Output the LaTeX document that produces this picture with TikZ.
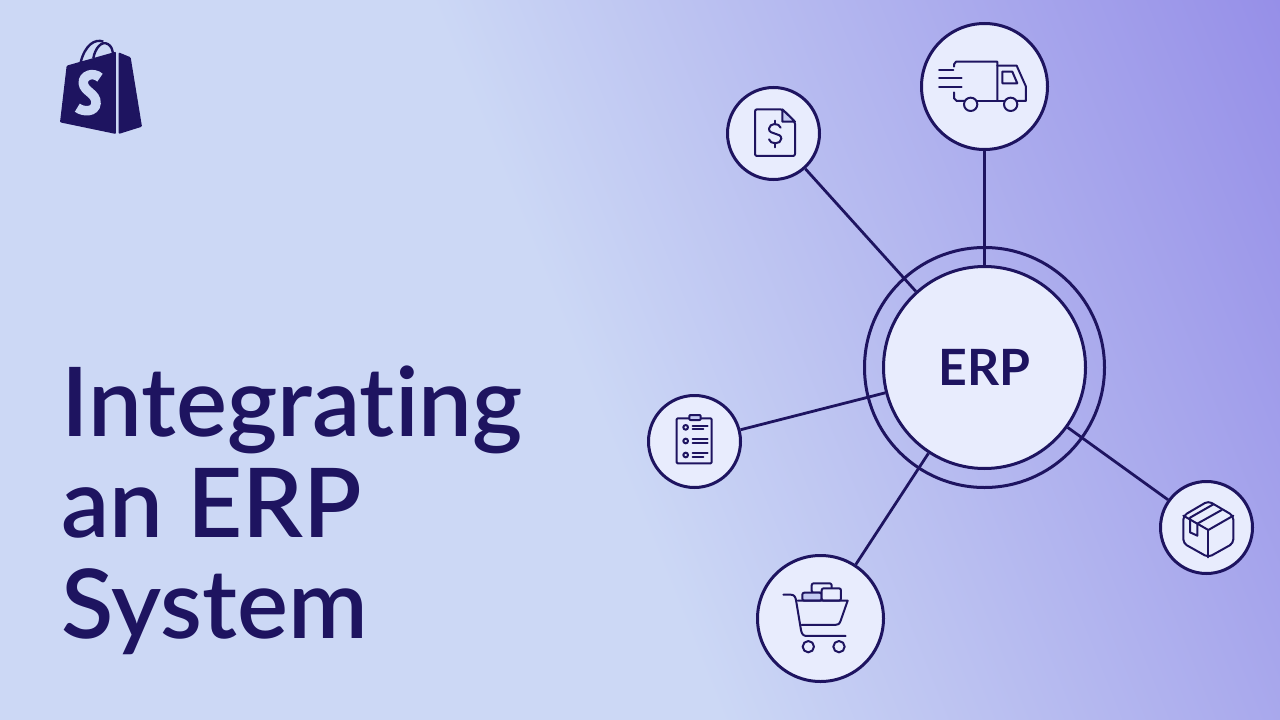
\documentclass[tikz,border=0pt]{standalone}
\usepackage{fontspec}
\setmainfont{Lato Semibold}[Ligatures=NoCommon,BoldFont=Lato Bold]
\usetikzlibrary{positioning}
\definecolor{navy}{RGB}{30,20,96}
\definecolor{paleblue}{RGB}{204,216,245}
\definecolor{deepblue}{RGB}{150,143,232}
\definecolor{discfill}{RGB}{232,236,253}
\definecolor{foldfill}{RGB}{196,202,242}
\pgfdeclarehorizontalshading{bgfade}{100bp}{color(0bp)=(paleblue); color(48.5bp)=(paleblue); color(68.2bp)=(deepblue); color(100bp)=(deepblue)}

\begin{document}
\begin{tikzpicture}[x=1pt, y=-1pt]
	\tikzstyle{bignode}=[draw=navy, line width=3pt, circle, fill=discfill, minimum size=126pt, inner sep=0pt]
	\tikzstyle{smallnode}=[draw=navy, line width=3pt, circle, fill=discfill, minimum size=92pt, inner sep=0pt]
	\tikzstyle{erpnode}=[draw=navy, line width=3pt, circle, fill=discfill, minimum size=202pt, inner sep=0pt, text=navy, font=\fontsize{50}{50}\selectfont\bfseries]
	\tikzstyle{ringnode}=[draw=navy, line width=3pt, circle, minimum size=240pt, inner sep=0pt]
	\tikzstyle{link}=[draw=navy, line width=2.8pt]
	\tikzstyle{icon}=[draw=navy, line width=2pt, line cap=round, line join=round]

	\useasboundingbox (0,0) rectangle (1280,720);
	\begin{scope}
		\clip (0,0) rectangle (1280,720);
		\node (bg) at (640,360) [minimum width=2000pt, minimum height=2000pt, shading=bgfade, shading angle=22] {};
	\end{scope}

	\node (title) at (61,638) [anchor=base west, align=left, text=navy, inner sep=0pt, font=\fontsize{96}{101}\selectfont] {Integrating\\an ERP\\System};

	\node (ring) at (984.5,367.5) [ringnode] {};
	\node (truck) at (984.5,86.5) [bignode] {};
	\node (bill) at (773.5,133.5) [smallnode] {};
	\node (list) at (694.5,441.5) [smallnode] {};
	\node (cart) at (820.5,618.5) [bignode] {};
	\node (parcel) at (1206.5,527.5) [smallnode] {};
	\node (erp) at (984.5,367.5) [erpnode] {ERP};

	\draw [link] (bill) -- (erp);
	\draw [link] (truck) -- (erp);
	\draw [link] (list) -- (erp);
	\draw [link] (cart) -- (erp);
	\draw [link] (parcel) -- (erp);

	% shop bag
	\begin{scope}[shift={(40,25)}, scale=0.3333]
		\fill [navy, rounded corners=1pt] (80,122) -- (228,80) -- (228,327) -- (60,292) -- cycle;
		\fill [navy, rounded corners=1pt] (236,82) -- (272,97) -- (306,305) -- (236,327) -- cycle;
		\draw [navy, line width=2.4pt] (122,112) .. controls (135,60) and (165,40) .. (190,50);
		\draw [navy, line width=2.4pt] (160,100) .. controls (165,70) and (185,45) .. (205,58) .. controls (214,64) and (218,75) .. (219,84);
		\draw [paleblue, line width=9.5pt] (180,158) .. controls (160,140) and (128,150) .. (130,175) .. controls (132,200) and (170,205) .. (168,235) .. controls (166,262) and (130,262) .. (112,248);
	\end{scope}

	% truck
	\begin{scope}[shift={(910,15)}, scale=0.3333]
		\draw [icon] (132,155) -- (132,148) -- (138,140) -- (262,140) -- (262,258);
		\draw [icon] (132,232) -- (132,250) -- (140,258) -- (163,258);
		\draw [icon] (202,258) -- (282,258);
		\draw [icon] (322,258) -- (348,258) -- (348,215) -- (320,152) -- (262,152);
		\draw [icon] (182,268) circle (20);
		\draw [icon] (302,268) circle (20);
		\draw [icon] (277,170) -- (307,170) -- (322,205) -- (277,205) -- cycle;
		\draw [icon] (87,165) -- (130,165);
		\draw [icon] (87,190) -- (155,190);
		\draw [icon] (87,215) -- (155,215);
	\end{scope}

	% bill
	\begin{scope}[shift={(720,80)}, scale=0.3333]
		\draw [icon, rounded corners=2pt] (105,88) -- (187,88) -- (225,125) -- (225,228) -- (105,228) -- cycle;
		\draw [icon, fill=foldfill] (187,88) -- (187,125) -- (225,125) -- cycle;
		\draw [icon] (182,143) .. controls (178,128) and (148,128) .. (147,146) .. controls (146,166) and (184,156) .. (184,176) .. controls (184,194) and (150,194) .. (147,178);
		\draw [icon] (165,122) -- (165,133);
		\draw [icon] (165,190) -- (165,202);
	\end{scope}

	% list
	\begin{scope}[shift={(640,385)}, scale=0.3333]
		\draw [icon, rounded corners=1pt] (110,100) rectangle (215,235);
		\draw [icon, fill=foldfill, rounded corners=1pt] (148,90) rectangle (182,105);
		\foreach \rowy/\lena/\lenb in {127/203/190, 168/203/203, 210/203/190} {
			\draw [icon] (137,\rowy) circle (7);
			\draw [icon] (158,\rowy-5) -- (\lena,\rowy-5);
			\draw [icon] (158,\rowy+6) -- (\lenb,\rowy+6);
		}
	\end{scope}

	% cart
	\begin{scope}[shift={(750,550)}, scale=0.3333]
		\draw [icon, rounded corners=2pt] (185,100) rectangle (245,128);
		\draw [icon, fill=foldfill, rounded corners=2pt] (157,128) rectangle (215,152);
		\draw [icon, fill=discfill, rounded corners=2pt] (215,115) rectangle (273,152);
		\draw [icon] (100,134) -- (122,134) .. controls (132,134) and (136,140) .. (138,150) -- (153,240) .. controls (155,252) and (160,258) .. (170,258) -- (287,258);
		\draw [icon] (143,152) -- (293,152) -- (272,212) .. controls (268,222) and (265,225) .. (255,225) -- (155,225);
		\draw [icon] (175,290) circle (17);
		\draw [icon] (267,290) circle (17);
	\end{scope}

	% parcel
	\begin{scope}[shift={(1150,475)}, scale=0.3333]
		\draw [icon, rounded corners=4pt] (175,78) -- (250,122) -- (250,205) -- (175,247) -- (100,205) -- (100,122) -- cycle;
		\draw [icon] (100,122) -- (175,165) -- (250,122);
		\draw [icon] (175,165) -- (175,247);
		\draw [icon] (190,88) -- (120,128) -- (120,172) -- (142,182) -- (142,146) -- (215,105);
	\end{scope}
\end{tikzpicture}
\end{document}
